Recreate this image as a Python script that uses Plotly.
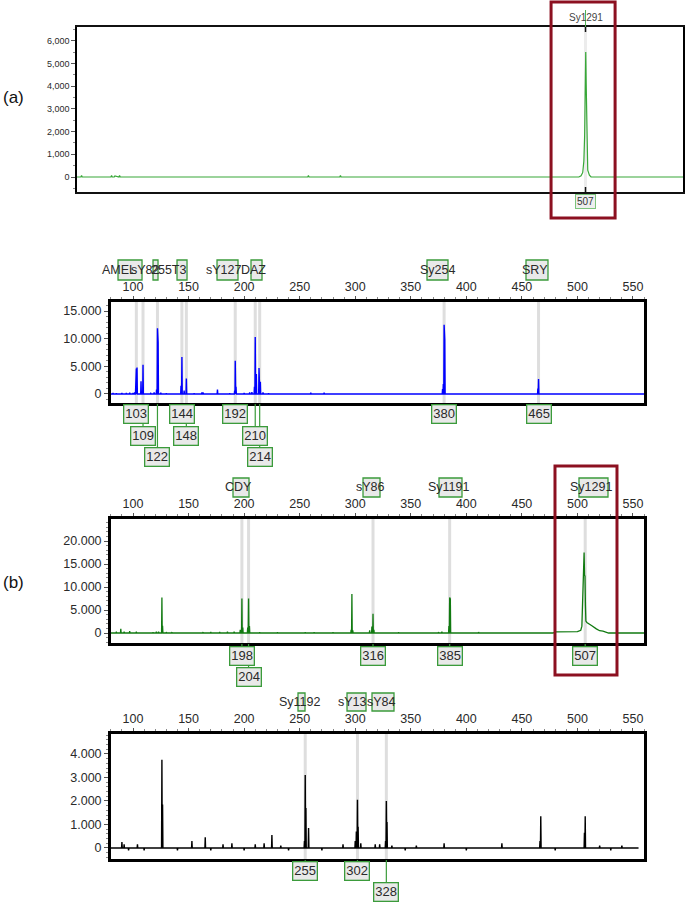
import plotly.graph_objects as go

W, H = 685, 902

# ---------------- data ----------------
# (a) single run, green trace: slow peak profile around 507 + tiny noise bumps
a_x = [49.5, 53.0, 53.6, 54.2, 80.0, 80.6, 81.2, 83.0, 83.6, 87.2, 87.8, 88.4, 257.1, 257.7, 258.3,
       285.9, 286.5, 287.1, 501.0, 503.0, 504.5, 505.5, 506.2, 506.6, 507.2, 507.6, 507.9, 508.3,
       509.0, 510.5, 512.0, 594.7]
a_y = [0, 0, 70, 0, 0, 60, 0, 0, 50, 0, 70, 0, 0, 60, 0,
       0, 70, 0, 0, 50, 200, 700, 1800, 4000, 5500, 4100, 2700, 800,
       300, 80, 0, 0]
a_ticks = [0, 1000, 2000, 3000, 4000, 5000, 6000]
a_ticktext = ["0", "1,000", "2,000", "3,000", "4,000", "5,000", "6,000"]
a_bins = [507]

# (b) blue panel: narrow peaks (size, height)
blue_pk_x = [82, 85, 90, 94, 97, 100, 101.5, 102.5, 103, 103.6, 107.2, 109, 116, 119, 121.2, 122,
             122.6, 125, 130, 143.2, 144, 146, 148, 155, 162, 163, 176, 187, 191.5, 192, 192.7,
             200, 205, 207, 209.3, 210, 211, 213.4, 213.8, 214.6, 217, 222, 260, 272, 378.6,
             379.3, 380, 380.6, 464.4, 465]
blue_pk_y = [200, 150, 200, 200, 250, 200, 300, 4400, 4600, 4800, 2300, 5300, 100, 300, 800, 11900,
             9300, 250, 150, 1500, 6700, 600, 2800, 150, 300, 300, 800, 150, 600, 6000, 1300,
             200, 300, 350, 1300, 10300, 3600, 4700, 2000, 2200, 300, 150, 250, 250, 900,
             1800, 12500, 9800, 1000, 2700]
blue_bins = [103, 109, 122, 144, 148, 192, 210, 214, 380, 465]
blue_rows = [0, 1, 2, 0, 1, 0, 1, 2, 0, 0]
blue_names = ["AMEL", "sY82", "255T3", "sY127", "DAZ", "Sy254", "SRY"]
blue_ticks = [0, 5000, 10000, 15000]
blue_ticktext = ["0", "5.000", "10.000", "15.000"]

# (b) green panel: narrow peaks + broad hump at 507
green_pk_x = [85, 89, 92, 97, 103, 118, 121, 123, 126, 126.6, 130, 135, 163, 170, 178, 185, 191,
              196.5, 198, 198.8, 203.2, 204, 204.8, 214, 230, 255, 263, 280, 296.3, 297, 297.8,
              313, 315, 316, 316.8, 339, 375, 378, 384.3, 385, 385.6, 411]
green_pk_y = [300, 900, 300, 400, 300, 200, 300, 300, 7700, 1600, 200, 200, 200, 250, 250, 300, 300,
              700, 7500, 1200, 1200, 7500, 1500, 200, 150, 150, 200, 200, 700, 8500, 600,
              600, 1400, 4200, 700, 150, 200, 300, 1500, 7700, 7400, 200]
green_hump_x = [478, 480, 500, 503, 504, 504.6, 505.0, 505.3, 505.6, 506.0, 506.4, 506.8, 507.2,
                507.6, 508.5, 510, 513, 517, 520, 523, 526, 528]
green_hump_y = [0, 250, 300, 600, 1500, 8500, 9000, 15000, 13000, 17500, 12500, 12400, 6000,
                2600, 2300, 2000, 1600, 900, 500, 400, 100, 0]
green_bins = [198, 204, 316, 385, 507]
green_rows = [0, 1, 0, 0, 0]
green_names = ["CDY", "sY86", "Sy1191", "Sy1291"]
green_ticks = [0, 5000, 10000, 15000, 20000]
green_ticktext = ["0", "5.000", "10.000", "15.000", "20.000"]

# (b) black panel
black_pk_x = [90, 92, 96, 104, 110, 126, 126.6, 140, 153, 165, 170, 181, 189, 200, 210, 218, 225,
              233, 240, 254.3, 255, 255.6, 258, 270, 289, 300, 301, 302, 302.6, 305, 318, 322,
              327.3, 328, 328.6, 333, 345, 355, 380, 400, 432, 466.3, 467, 480, 506.3, 507, 520,
              530, 540]
black_pk_y = [250, 150, -100, 150, -100, 3750, 1850, -100, 300, 450, -100, 150, 200, -100, 150, 200,
              550, 100, -100, 300, 3100, 1700, 850, -100, 150, 300, 700, 2050, 900, 200, 150, 150,
              300, 2000, 1100, 100, -100, 100, 200, -100, 200, 300, 1350, -100, 650, 1350, 100,
              -100, 100]
black_bins = [255, 302, 328]
black_rows = [0, 0, 1]
black_names = ["Sy1192", "sY13", "sY84"]
black_ticks = [0, 1000, 2000, 3000, 4000]
black_ticktext = ["0", "1.000", "2.000", "3.000", "4.000"]

size_ticks = [100, 150, 200, 250, 300, 350, 400, 450, 500, 550]

# ---------------- layout helpers ----------------
def py(y_px):
    return 1 - y_px / H


def px(x_px):
    return x_px / W


def spikes(xs, ys, lo, hi, extra_x=(), extra_y=(), hw=0.3):
    pts = [(lo, 0), (hi, 0)]
    for x, y in zip(xs, ys):
        pts += [(x - hw, 0), (x, y), (x + hw, 0)]
    pts += list(zip(extra_x, extra_y))
    pts.sort(key=lambda p: p[0])
    return [p[0] for p in pts], [p[1] for p in pts]


GREEN_BOX = "#3b9b3b"
FILL = "#e9e9e9"
BIN = "#dedede"
TXT = "#2a2a2a"
RED = "#8c1020"

# panel geometry in pixels (top, bottom)
panels = {
    "a": dict(x="x", y="y", top=27, bottom=192),
    "b1": dict(x="x2", y="y2", top=302, bottom=403),
    "b2": dict(x="x3", y="y3", top=519, bottom=643),
    "b3": dict(x="x4", y="y4", top=734, bottom=859),
}

fig = go.Figure()

ax, ay = spikes([], [], 49.5, 594.7, a_x, a_y)
fig.add_trace(go.Scatter(x=ax, y=ay, mode="lines", line=dict(color="#38a838", width=1.2),
                         xaxis="x", yaxis="y", hoverinfo="skip"))
bx, by = spikes(blue_pk_x, blue_pk_y, 80, 560)
fig.add_trace(go.Scatter(x=bx, y=by, mode="lines", line=dict(color="#0000ff", width=1.4),
                         xaxis="x2", yaxis="y2", hoverinfo="skip"))
gx, gy = spikes(green_pk_x, green_pk_y, 80, 560, green_hump_x, green_hump_y)
fig.add_trace(go.Scatter(x=gx, y=gy, mode="lines", line=dict(color="#117a11", width=1.3),
                         xaxis="x3", yaxis="y3", hoverinfo="skip"))
kx, ky = spikes(black_pk_x, black_pk_y, 80, 555)
fig.add_trace(go.Scatter(x=kx, y=ky, mode="lines", line=dict(color="#000000", width=1.4),
                         xaxis="x4", yaxis="y4", hoverinfo="skip"))

shapes = []
annotations = []

# bins (light grey vertical bands) and bottom size boxes
row_px = {"b1": [414, 436, 457], "b2": [656, 677], "b3": [871, 892]}
for key, bins, rows in [("b1", blue_bins, blue_rows), ("b2", green_bins, green_rows),
                        ("b3", black_bins, black_rows)]:
    p = panels[key]
    for b, r in zip(bins, rows):
        shapes.append(dict(type="line", xref=p["x"], yref=p["y"] + " domain", x0=b, x1=b, y0=0, y1=1,
                           line=dict(color=BIN, width=3), layer="below"))
        yc = row_px[key][r]
        shapes.append(dict(type="line", xref=p["x"], yref="paper", x0=b, x1=b,
                           y0=py(p["bottom"] + 1), y1=py(yc - 9), line=dict(color=GREEN_BOX, width=1.2)))
        annotations.append(dict(x=b, xref=p["x"], y=py(yc), yref="paper", text=str(b), showarrow=False,
                                font=dict(size=13, color=TXT), bgcolor=FILL, bordercolor=GREEN_BOX,
                                borderwidth=1.3, borderpad=1, xanchor="center", yanchor="middle"))

# panel (a) bin, marker tick and size box
shapes.append(dict(type="line", xref="x", yref="y domain", x0=507, x1=507, y0=0, y1=1,
                   line=dict(color="#ececec", width=3), layer="below"))
shapes.append(dict(type="line", xref="x", yref="paper", x0=507, x1=507, y0=py(27), y1=py(10),
                   line=dict(color="#52b052", width=1)))
for y0, y1 in [(27, 32), (187, 192), (192, 197)]:
    shapes.append(dict(type="line", xref="x", yref="paper", x0=507, x1=507, y0=py(y0), y1=py(y1),
                       line=dict(color="#111111", width=1.5)))
annotations.append(dict(x=507, xref="x", y=py(18), yref="paper", text="Sy1291", showarrow=False,
                        font=dict(size=10, color="#444444"), xanchor="center", yanchor="middle"))
annotations.append(dict(x=507, xref="x", y=py(202), yref="paper", text="507", showarrow=False,
                        font=dict(size=10, color="#333333"), bgcolor="#eeeeee", bordercolor="#7cc47c",
                        borderwidth=1, borderpad=1, xanchor="center", yanchor="middle"))

# marker-name labels above the size axis (grey boxes only partly under the text)
name_layout = {
    "b1": dict(names=blue_names, pos=[87.0, 110.8, 132.0, 181.0, 208.0, 373.6, 461.8],
               boxes=[(86.5, 108.1), (118.0, 122.5), (139.6, 148.6), (175.6, 194.5), (206.2, 216.1),
                      (364.6, 383.5), (453.7, 473.5)], y=(260, 280)),
    "b2": dict(names=green_names, pos=[194.5, 313.3, 384.4, 512.2],
               boxes=[(190.0, 204.4), (307.0, 322.3), (375.4, 396.1), (501.4, 527.5)], y=(478, 497)),
    "b3": dict(names=black_names, pos=[250.3, 297.1, 323.2],
               boxes=[(248.5, 254.8), (292.6, 309.7), (315.1, 334.9)], y=(693, 711)),
}
for key, nl in name_layout.items():
    p = panels[key]
    y0, y1 = nl["y"]
    for bx0, bx1 in nl["boxes"]:
        shapes.append(dict(type="rect", xref=p["x"], yref="paper", x0=bx0, x1=bx1, y0=py(y1), y1=py(y0),
                           fillcolor=FILL, line=dict(color=GREEN_BOX, width=1.3)))
    for n, xp in zip(nl["names"], nl["pos"]):
        annotations.append(dict(x=xp, xref=p["x"], y=py((y0 + y1) / 2), yref="paper", text=n,
                                showarrow=False, font=dict(size=12.5, color=TXT),
                                xanchor="center", yanchor="middle"))

# red highlight frames
shapes.append(dict(type="rect", xref="x", yref="paper", x0=476.0, x1=533.6, y0=py(218), y1=py(2),
                   line=dict(color=RED, width=3)))
shapes.append(dict(type="rect", xref="x3", yref="paper", x0=479.8, x1=535.6, y0=py(675), y1=py(466),
                   line=dict(color=RED, width=3)))

# (a) / (b) labels
annotations.append(dict(x=px(1), y=py(97), xref="paper", yref="paper", text="(a)", showarrow=False,
                        font=dict(size=17, color="#111111"), xanchor="left", yanchor="middle"))
annotations.append(dict(x=px(1), y=py(582), xref="paper", yref="paper", text="(b)", showarrow=False,
                        font=dict(size=17, color="#111111"), xanchor="left", yanchor="middle"))

xdom = [px(110.8), px(644.1)]
common_x = dict(side="top", range=[80, 560], tickvals=size_ticks, ticks="outside", ticklen=3,
                tickcolor="#555555", tickfont=dict(size=12.5, color=TXT), showgrid=False,
                zeroline=False, showline=True, mirror=True, linecolor="#000000", linewidth=2.5,
                minor=dict(dtick=10, ticks="outside", ticklen=2, tickcolor="#888888"))


def yaxis(p, rng, vals, text, size=12.5, minor_dt=1000, lw=2.5):
    return dict(domain=[py(p["bottom"]), py(p["top"])], range=rng, tickvals=vals, ticktext=text,
                ticks="outside", ticklen=4, tickcolor="#555555", tickfont=dict(size=size, color=TXT),
                showgrid=False, zeroline=False, showline=True, mirror=True, linecolor="#000000",
                linewidth=lw, anchor=p["x"],
                minor=dict(dtick=minor_dt, ticks="outside", ticklen=2, tickcolor="#888888"))


fig.update_layout(
    width=W, height=H, margin=dict(l=0, r=0, t=0, b=0), showlegend=False,
    paper_bgcolor="white", plot_bgcolor="white",
    font=dict(family="Liberation Sans, Arial, sans-serif"),
    xaxis=dict(domain=[px(77), px(683)], range=[49.5, 594.7], showticklabels=False, ticks="",
               showgrid=False, zeroline=False, showline=True, mirror=True, linecolor="#111111",
               linewidth=1.5, anchor="y"),
    yaxis=yaxis(panels["a"], [-660, 6600], a_ticks, a_ticktext, size=9, minor_dt=500, lw=1.5),
    xaxis2=dict(domain=xdom, anchor="y2", **common_x),
    yaxis2=yaxis(panels["b1"], [-1630, 16630], blue_ticks, blue_ticktext),
    xaxis3=dict(domain=xdom, anchor="y3", **common_x),
    yaxis3=yaxis(panels["b2"], [-2170, 24800], green_ticks, green_ticktext),
    xaxis4=dict(domain=xdom, anchor="y4", **common_x),
    yaxis4=yaxis(panels["b3"], [-470, 4850], black_ticks, black_ticktext, minor_dt=200),
    shapes=shapes, annotations=annotations,
)

# the page's default body margin would shift the 685x902 figure by 8px
fig.write_html("out.html", config={"displayModeBar": False},
               post_script="document.body.style.margin='0';")
